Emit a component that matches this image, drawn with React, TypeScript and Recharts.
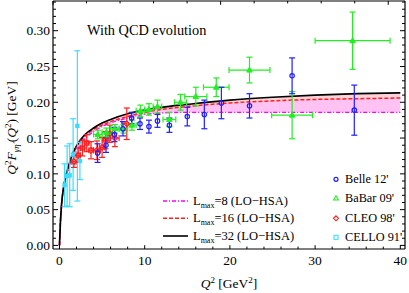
import {
  Area,
  ComposedChart,
  ErrorBar,
  Legend,
  Line,
  Scatter,
  XAxis,
  YAxis,
} from "recharts";

// theory curves, Q^2 F(Q^2) for three L_max values
const q2Grid = [0, 0.1, 0.25, 0.5, 0.75, 1, 1.5, 2, 2.5, 3, 4, 5, 6, 8, 10, 12, 15, 20, 25, 30, 35, 40];
const lmax8 = [0, 0.03, 0.057, 0.081, 0.095, 0.105, 0.122, 0.133, 0.141, 0.149, 0.159, 0.166, 0.171, 0.178, 0.183, 0.185, 0.186, 0.186, 0.186, 0.186, 0.186, 0.186];
const lmax16 = [0, 0.03, 0.058, 0.082, 0.097, 0.107, 0.126, 0.138, 0.146, 0.153, 0.162, 0.168, 0.173, 0.18, 0.186, 0.19, 0.194, 0.199, 0.202, 0.204, 0.205, 0.206];
const lmax32 = [0, 0.03, 0.058, 0.082, 0.097, 0.108, 0.127, 0.139, 0.148, 0.155, 0.164, 0.171, 0.176, 0.184, 0.189, 0.193, 0.197, 0.203, 0.207, 0.21, 0.212, 0.213];

// Belle 12'
const belleQ2 = [4.47, 5.46, 6.45, 7.45, 8.47, 9.45, 10.5, 11.5, 12.9, 15.0, 17.0, 19.0, 22.3, 27.3, 34.6];
const belleVal = [0.129, 0.14, 0.155, 0.163, 0.178, 0.17, 0.166, 0.174, 0.168, 0.18, 0.183, 0.199, 0.195, 0.237, 0.189];
const belleErr = [0.013, 0.01, 0.01, 0.01, 0.008, 0.008, 0.009, 0.009, 0.01, 0.013, 0.02, 0.022, 0.017, 0.025, 0.035];

// BaBar 09'
const babarQ2 = [4.5, 5.5, 6.5, 7.5, 8.5, 9.5, 10.5, 11.5, 12.9, 14.2, 16.0, 18.4, 22.3, 27.3, 34.4];
const babarVal = [0.155, 0.158, 0.163, 0.163, 0.168, 0.188, 0.19, 0.194, 0.176, 0.2, 0.208, 0.221, 0.245, 0.182, 0.286];
const babarErrQ2 = [0.5, 0.5, 0.5, 0.5, 0.5, 0.5, 0.5, 0.5, 0.75, 0.7, 1.3, 1.5, 2.4, 2.4, 4.4];
const babarErr = [0.006, 0.006, 0.006, 0.006, 0.007, 0.008, 0.008, 0.009, 0.01, 0.011, 0.013, 0.013, 0.018, 0.033, 0.04];

// CLEO 98'
const cleoQ2 = [1.7, 2.2, 2.7, 3.2, 3.7, 4.4, 5.0, 5.4, 5.9, 6.5, 7.9];
const cleoVal = [0.117, 0.126, 0.136, 0.143, 0.133, 0.133, 0.137, 0.147, 0.156, 0.15, 0.17];
const cleoErrQ2 = [0.25, 0.25, 0.25, 0.25, 0.25, 0.4, 0.3, 0.3, 0.3, 0.5, 0.6];
const cleoErr = [0.008, 0.01, 0.011, 0.012, 0.012, 0.013, 0.014, 0.012, 0.012, 0.012, 0.022];

// CELLO 91'
const celloQ2 = [0.6, 0.9, 1.2, 1.6, 2.1, 2.4];
const celloVal = [0.084, 0.097, 0.098, 0.127, 0.167, 0.118];
const celloErr = [0.03, 0.042, 0.044, 0.05, 0.105, 0.026];

const curveData = q2Grid.map((x, i) => ({ x, l8: lmax8[i], l16: lmax16[i], l32: lmax32[i] }));
const belleData = belleQ2.map((x, i) => ({ x, y: belleVal[i], ey: belleErr[i] }));
const babarData = babarQ2.map((x, i) => ({ x, y: babarVal[i], ex: babarErrQ2[i], ey: babarErr[i] }));
const cleoData = cleoQ2.map((x, i) => ({ x, y: cleoVal[i], ex: cleoErrQ2[i], ey: cleoErr[i] }));
const celloData = celloQ2.map((x, i) => ({ x, y: celloVal[i], ey: celloErr[i] }));

const xTicks = Array.from({ length: 21 }, (_, i) => i * 2);
const yTicks = Array.from({ length: 35 }, (_, i) => i / 100);
const X_DOMAIN = [-0.76, 40.55];
const Y_DOMAIN = [-0.005, 0.3415];

const FONT = '"Liberation Serif", "DejaVu Serif", serif';
const BLUE = "#1f1fff";
const GREEN = "#22ee22";
const RED = "#ff1f1f";
const CYAN = "#3adcff";
const MAGENTA = "#ff00ff";

const XTick = ({ x, y, payload, side }: any) => {
  const major = payload.value % 10 === 0;
  const len = major ? 3.8 : 2.4;
  const dir = side === "top" ? 1 : -1;
  return (
    <g>
      <line x1={x} x2={x} y1={y} y2={y + dir * len} stroke="#000" strokeWidth={1} />
      {side === "bottom" && major && (
        <text x={x} y={y + 6} dy="0.71em" textAnchor="middle" fontFamily={FONT} fontSize={13.5} fill="#000">
          {payload.value}
        </text>
      )}
    </g>
  );
};

const YTick = ({ x, y, payload, side }: any) => {
  const major = Math.round(payload.value * 100) % 5 === 0;
  const len = major ? 5 : 3;
  const dir = side === "right" ? -1 : 1;
  return (
    <g>
      <line x1={x} x2={x + dir * len} y1={y} y2={y} stroke="#000" strokeWidth={1} />
      {side === "left" && major && (
        <text x={x - 3} y={y} dy="0.355em" textAnchor="end" fontFamily={FONT} fontSize={13.5} fill="#000">
          {payload.value.toFixed(2)}
        </text>
      )}
    </g>
  );
};

const Circle = (p: any) => <circle cx={p.cx} cy={p.cy} r={2.2} fill="none" stroke={BLUE} strokeWidth={1.2} />;
const Triangle = (p: any) => (
  <polygon points={`${p.cx},${p.cy - 3} ${p.cx - 2.8},${p.cy + 2} ${p.cx + 2.8},${p.cy + 2}`} fill={GREEN} stroke={GREEN} />
);
const Diamond = (p: any) => (
  <polygon
    points={`${p.cx},${p.cy - 2.8} ${p.cx + 2.8},${p.cy} ${p.cx},${p.cy + 2.8} ${p.cx - 2.8},${p.cy}`}
    fill="none"
    stroke={RED}
    strokeWidth={1.2}
  />
);
const Square = (p: any) => <rect x={p.cx - 2.2} y={p.cy - 2.2} width={4.4} height={4.4} fill={CYAN} />;

const lineRows = [
  { label: "8", y: 201, stroke: MAGENTA, dash: "4 2 1 2", w: 1.3 },
  { label: "16", y: 218.3, stroke: RED, dash: "4 2", w: 1.5 },
  { label: "32", y: 236, stroke: "#000", dash: undefined, w: 1.6 },
];

const Annotations = () => (
  <svg width={409} height={293} style={{ position: "absolute", left: 0, top: 0 }} fontFamily={FONT}>
    <text x={87} y={34.5} fontSize={14.3} fill="#000">With QCD evolution</text>
    {lineRows.map((r) => (
      <g key={r.label}>
        <line x1={163} x2={188} y1={r.y} y2={r.y} stroke={r.stroke} strokeWidth={r.w} strokeDasharray={r.dash} />
        <text x={193} y={r.y + 4} fontSize={12.5} fill="#000">
          L<tspan fontSize={8} dy={3}>max</tspan>
          <tspan dy={-3}>={r.label} (LO−HSA)</tspan>
        </text>
      </g>
    ))}
    <circle cx={336} cy={179.3} r={2} fill="none" stroke={BLUE} strokeWidth={1.2} />
    <text x={345} y={183.3} fontSize={12.3} fill="#000">Belle 12'</text>
    <polygon points="336,195.8 333.6,200 338.4,200" fill="none" stroke={GREEN} strokeWidth={1.1} />
    <text x={345} y={202.3} fontSize={12.3} fill="#000">BaBar 09'</text>
    <polygon points="336,215.8 338.5,218.3 336,220.8 333.5,218.3" fill="none" stroke={RED} strokeWidth={1.1} />
    <text x={345} y={222.3} fontSize={12.3} fill="#000">CLEO 98'</text>
    <rect x={334} y={235.3} width={4} height={4} fill="none" stroke={CYAN} strokeWidth={1.1} />
    <text x={345} y={241.3} fontSize={12.3} fill="#000">CELLO 91'</text>
  </svg>
);

export default function App() {
  return (
    <div style={{ position: "absolute", left: 0, top: 0, width: 409, height: 293, background: "#fff" }}>
      <ComposedChart width={409} height={293} data={curveData} margin={{ top: 1, right: 4, bottom: 0, left: 0 }}>
        <XAxis
          dataKey="x"
          type="number"
          domain={X_DOMAIN}
          allowDataOverflow
          ticks={xTicks}
          interval={0}
          height={44}
          tickSize={0}
          tickMargin={0}
          tick={(p: any) => <XTick {...p} side="bottom" />}
          axisLine={{ stroke: "#000", strokeWidth: 1.2 }}
          label={{
            content: ({ viewBox }: any) => (
              <text x={viewBox.x + viewBox.width / 2} y={viewBox.y + 39} textAnchor="middle" fontFamily={FONT} fontSize={13.5} fill="#000">
                <tspan fontStyle="italic">Q</tspan>
                <tspan fontSize={9} dy={-5}>2</tspan>
                <tspan dy={5}> [GeV</tspan>
                <tspan fontSize={9} dy={-5}>2</tspan>
                <tspan dy={5}>]</tspan>
              </text>
            ),
          }}
        />
        <XAxis
          xAxisId="top"
          orientation="top"
          mirror
          type="number"
          domain={X_DOMAIN}
          allowDataOverflow
          ticks={xTicks}
          interval={0}
          tickSize={0}
          tickMargin={0}
          tick={(p: any) => <XTick {...p} side="top" />}
          axisLine={{ stroke: "#000", strokeWidth: 1.2 }}
        />
        <YAxis
          type="number"
          domain={Y_DOMAIN}
          allowDataOverflow
          ticks={yTicks}
          interval={0}
          width={53}
          tickSize={0}
          tickMargin={0}
          tick={(p: any) => <YTick {...p} side="left" />}
          axisLine={{ stroke: "#000", strokeWidth: 1.2 }}
          label={{
            content: () => (
              <text x={16} y={128} transform="rotate(-90 16 128)" textAnchor="middle" fontFamily={FONT} fontSize={13.5} fill="#000">
                <tspan fontStyle="italic">Q</tspan>
                <tspan fontSize={9} dy={-5}>2</tspan>
                <tspan dy={5} fontStyle="italic">F</tspan>
                <tspan fontSize={9} dy={3} fontStyle="italic">γη′</tspan>
                <tspan dy={-3}>(</tspan>
                <tspan fontStyle="italic">Q</tspan>
                <tspan fontSize={9} dy={-5}>2</tspan>
                <tspan dy={5}>) [GeV]</tspan>
              </text>
            ),
          }}
        />
        <YAxis
          yAxisId="right"
          orientation="right"
          mirror
          type="number"
          domain={Y_DOMAIN}
          allowDataOverflow
          ticks={yTicks}
          interval={0}
          tickSize={0}
          tickMargin={0}
          tick={(p: any) => <YTick {...p} side="right" />}
          axisLine={{ stroke: "#000", strokeWidth: 1.2 }}
        />

        <Area type="monotone" dataKey={(d: any) => [d.l8, d.l16]} stroke="none" fill="#ffc2f2" fillOpacity={1} isAnimationActive={false} />
        <Area type="monotone" dataKey={(d: any) => [d.l16, d.l32]} stroke="none" fill="#ffd2d8" fillOpacity={1} isAnimationActive={false} />
        <Line type="monotone" dataKey="l8" stroke={MAGENTA} strokeWidth={1.3} strokeDasharray="4 2 1 2" dot={false} isAnimationActive={false} />
        <Line type="monotone" dataKey="l16" stroke={RED} strokeWidth={1.5} strokeDasharray="4 2" dot={false} isAnimationActive={false} />
        <Line type="monotone" dataKey="l32" stroke="#000" strokeWidth={1.7} dot={false} isAnimationActive={false} />

        <Scatter data={celloData} dataKey="y" shape={Square} isAnimationActive={false}>
          <ErrorBar dataKey="ey" direction="y" width={3} stroke={CYAN} strokeWidth={1.2} />
        </Scatter>
        <Scatter data={cleoData} dataKey="y" shape={Diamond} isAnimationActive={false}>
          <ErrorBar dataKey="ey" direction="y" width={3} stroke={RED} strokeWidth={1.2} />
          <ErrorBar dataKey="ex" direction="x" width={3} stroke={RED} strokeWidth={1.2} />
        </Scatter>
        <Scatter data={babarData} dataKey="y" shape={Triangle} isAnimationActive={false}>
          <ErrorBar dataKey="ey" direction="y" width={3} stroke={GREEN} strokeWidth={1.2} />
          <ErrorBar dataKey="ex" direction="x" width={3} stroke={GREEN} strokeWidth={1.2} />
        </Scatter>
        <Scatter data={belleData} dataKey="y" shape={Circle} isAnimationActive={false}>
          <ErrorBar dataKey="ey" direction="y" width={3} stroke={BLUE} strokeWidth={1.2} />
        </Scatter>

        <Legend
          layout="horizontal"
          verticalAlign="middle"
          align="center"
          content={() => <Annotations />}
          wrapperStyle={{ position: "absolute", left: 0, top: 0, width: 409, height: 293, pointerEvents: "none" }}
        />
      </ComposedChart>
    </div>
  );
}
